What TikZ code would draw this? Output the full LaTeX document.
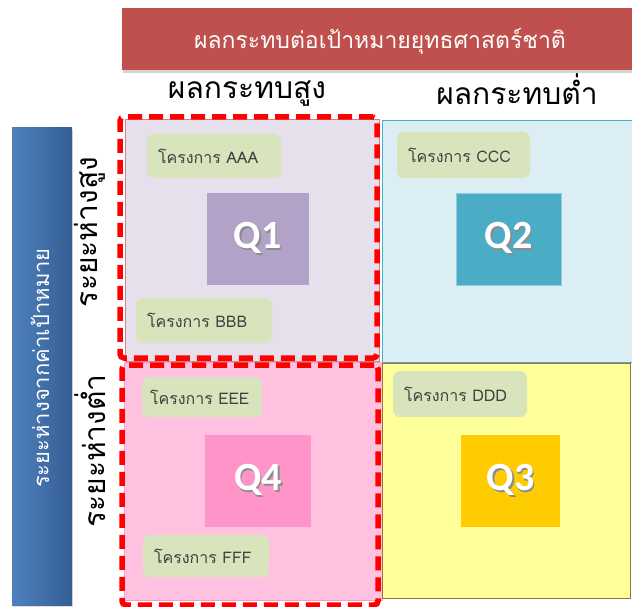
\documentclass[tikz,border=0pt]{standalone}
\usepackage{fontspec}
\newfontfamily\thaifont[Script=Thai]{Loma}
\newfontfamily\qfont{Carlito}
\definecolor{bannerred}{RGB}{192,80,77}
\definecolor{barblue}{RGB}{79,129,189}
\definecolor{bardark}{RGB}{52,94,148}
\definecolor{qonebg}{RGB}{229,224,236}
\definecolor{qonesq}{RGB}{178,162,199}
\definecolor{qtwobg}{RGB}{218,238,243}
\definecolor{qtwosq}{RGB}{75,172,198}
\definecolor{qthreebg}{RGB}{255,255,153}
\definecolor{qthreesq}{RGB}{255,204,0}
\definecolor{qthreeedge}{RGB}{160,112,60}
\definecolor{qfourbg}{RGB}{255,193,224}
\definecolor{qfoursq}{RGB}{255,148,200}
\definecolor{qfouredge}{RGB}{255,153,204}
\definecolor{boxgreen}{RGB}{216,228,188}
\definecolor{boxtext}{RGB}{64,64,64}
\usetikzlibrary{positioning,shadows}
\newcommand{\qtext}[1]{\rlap{\raisebox{-1.5pt}{\hspace{1.5pt}\color{black!45}#1}}#1}

\begin{document}
\begin{tikzpicture}[
  x=1pt,y=-1pt,
  every node/.style={inner sep=0pt},
  panel/.style={draw,line width=1pt},
  projbox/.style={rounded corners=7pt,fill=boxgreen,text=boxtext,
                  font=\thaifont\fontsize{16}{18}\selectfont,
                  align=left,inner xsep=11pt,text width=#1,minimum height=44pt},
  qsquare/.style={minimum width=102pt,minimum height=92pt,text=white,
                  font=\qfont\bfseries\fontsize{40}{44}\selectfont},
  dashframe/.style={draw=red,line width=5.5pt,dash pattern=on 14pt off 7pt,
                    rounded corners=4pt},
  headtext/.style={font=\thaifont\fontsize{30}{34}\selectfont},
]
  \useasboundingbox (0,0) rectangle (632,607);

  % Banner
  \node[fill=bannerred,minimum width=520pt,minimum height=62pt,
        drop shadow={shadow xshift=1pt,shadow yshift=-3pt,opacity=0.35}]
        (banner) at (382,39) {};
  \node[text=white,font=\thaifont\fontsize{23}{27}\selectfont] (bannertxt) at (380,41)
        {ผลกระทบต่อเป้าหมายยุทธศาสตร์ชาติ};

  % Column heads
  \node[headtext] (highimpact) at (247,94) {ผลกระทบสูง};
  \node[headtext] (lowimpact) at (517,89) {ผลกระทบต่ำ};

  % Left bar
  \node[left color=barblue,right color=bardark,minimum width=60pt,minimum height=477pt,
        drop shadow={shadow xshift=1pt,shadow yshift=-2pt,opacity=0.25}]
        (gapbar) at (42,366.5) {};
  \node[rotate=90,text=white,font=\thaifont\fontsize{22}{25}\selectfont] (gaptxt) at (40,368)
        {ระยะห่างจากค่าเป้าหมาย};

  % Row heads
  \node[headtext,rotate=90] (highgap) at (90,232) {ระยะห่างสูง};
  \node[headtext,rotate=90] (lowgap) at (90,451) {ระยะห่างต่ำ};

  % Quadrant panels
  \node[panel,fill=qonebg,draw=bannerred!70,minimum width=254pt,minimum height=241pt]
        (q1panel) at (252,240.5) {};
  \node[panel,fill=qtwobg,draw=qtwosq,minimum width=258pt,minimum height=241pt]
        (q2panel) at (511,241.5) {};
  \node[panel,fill=qfourbg,draw=qfouredge,minimum width=258pt,minimum height=238pt]
        (q4panel) at (253,481) {};
  \node[panel,fill=qthreebg,draw=qthreeedge,minimum width=248pt,minimum height=235pt]
        (q3panel) at (506,480.5) {};

  % Q squares
  \node[qsquare,fill=qonesq] (q1) at (257.5,239) {\qtext{Q1}};
  \node[qsquare,fill=qtwosq,draw=qtwosq!60,minimum width=105pt] (q2) at (508.5,239) {\qtext{Q2}};
  \node[qsquare,fill=qfoursq,minimum width=106pt] (q4) at (258,481) {\qtext{Q4}};
  \node[qsquare,fill=qthreesq,minimum width=99pt] (q3) at (510.5,481) {\qtext{Q3}};

  % Projects
  \node[projbox=112pt] (projA) at (214,156) {โครงการ AAA};
  \node[projbox=114pt,minimum height=45pt] (projB) at (204,320.5) {โครงการ BBB};
  \node[projbox=111pt,minimum height=46pt] (projC) at (463.5,155) {โครงการ CCC};
  \node[projbox=112pt,minimum height=46pt] (projD) at (460,394) {โครงการ DDD};
  \node[projbox=104pt,inner xsep=8pt,minimum height=40pt] (projE) at (202,397) {\mbox{โครงการ EEE}};
  \node[projbox=104pt,minimum height=42pt] (projF) at (206,556) {โครงการ FFF};

  % Red dashed frames
  \node[dashframe,minimum width=257pt,minimum height=241pt] (q1frame) at (248.5,237.5) {};
  \node[dashframe,minimum width=256pt,minimum height=240pt] (q4frame) at (250,485) {};
\end{tikzpicture}
\end{document}
